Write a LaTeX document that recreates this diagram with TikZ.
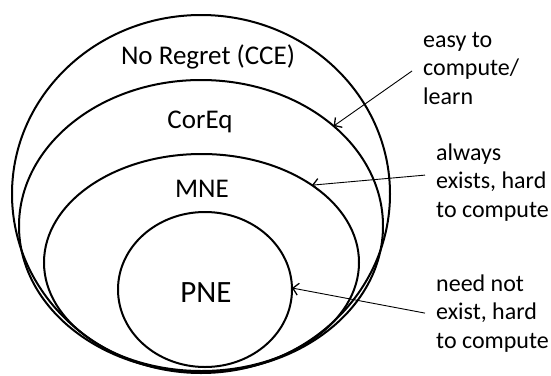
\documentclass[tikz,border=0pt]{standalone}
\usepackage{fontspec}
\setmainfont{Carlito}
\usetikzlibrary{shapes.geometric,arrows.meta}
\begin{document}
\begin{tikzpicture}[x=1pt,y=-1pt,
  setell/.style={draw=black,line width=2pt,ellipse,inner sep=0pt,outer sep=0pt},
  setlabel/.style={font=\fontsize{27}{32}\selectfont,inner sep=0pt,anchor=base},
  note/.style={font=\fontsize{24}{28.5}\selectfont,align=left,inner xsep=11pt,inner ysep=0pt,anchor=base west},
  pointer/.style={line width=0.9pt,-{Straight Barb[length=5.5pt,width=12pt,line width=1.3pt]}}]
\useasboundingbox (0,0) rectangle (551,375);
% sets
\node[setell,minimum width=378pt,minimum height=358pt] (cce) at (201,194) {};
\node[setell,minimum width=364pt,minimum height=292pt] (coreq) at (201,226) {};
\node[setell,minimum width=315pt,minimum height=217pt] (mne) at (201.5,262.5) {};
\node[setell,minimum width=174pt,minimum height=155pt] (pne) at (205,289.5) {};
% labels
\node[setlabel] (lcce) at (208,64) {No Regret (CCE)};
\node[setlabel] (lcoreq) at (200,128) {CorEq};
\node[setlabel] (lmne) at (202,197) {MNE};
\node[setlabel,font=\fontsize{31}{36}\selectfont] (lpne) at (206,302) {PNE};
% notes
\node[note] (n1) at (412,104) {easy to\\compute/\\learn};
\node[note] (n2) at (425,217) {always\\exists, hard\\to compute};
\node[note] (n3) at (425,348) {need not\\exist, hard\\to compute};
% pointers
\draw[pointer] ([yshift=-3pt]n1.west) -- (coreq.37);
\draw[pointer] ([yshift=7pt]n2.west) -- (mne.35);
\draw[pointer] (n3.west) -- (pne.1);
\end{tikzpicture}
\end{document}
